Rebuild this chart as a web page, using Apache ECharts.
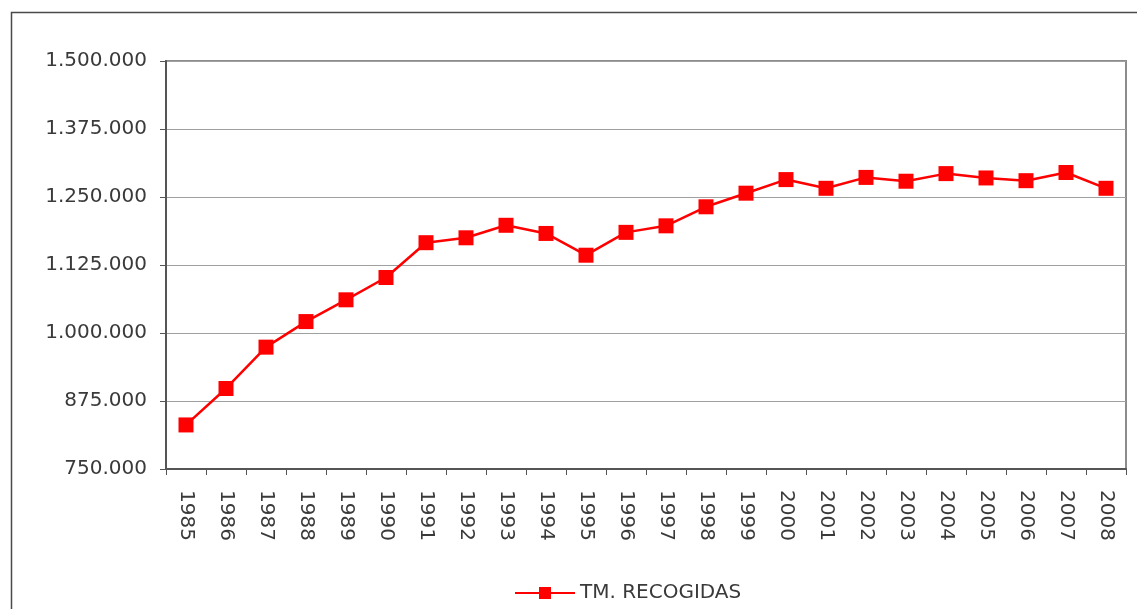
<!DOCTYPE html>
<html>
<head>
<meta charset="utf-8">
<script src="https://cdn.jsdelivr.net/npm/echarts@6/dist/echarts.min.js"></script>
<style>
  html, body { margin: 0; padding: 0; background: #fff; }
  #chart { width: 1137px; height: 609px; }
</style>
</head>
<body>
<div id="chart"></div>
<script>
// años
var years = ['1985', '1986', '1987', '1988', '1989', '1990', '1991', '1992', '1993', '1994', '1995', '1996',
  '1997', '1998', '1999', '2000', '2001', '2002', '2003', '2004', '2005', '2006', '2007', '2008'];
// toneladas recogidas
var tmRecogidas = [831000, 898000, 974000, 1021000, 1061000, 1102000, 1166000, 1175000, 1198000, 1183000, 1143000, 1185000,
  1197000, 1232000, 1257000, 1282000, 1266000, 1286000, 1279000, 1293000, 1285000, 1280000, 1295000, 1266000];
var seriesName = 'TM. RECOGIDAS';

function fmtMiles(v) {
  return String(v).replace(/\B(?=(\d{3})+(?!\d))/g, '.');
}

var chart = echarts.init(document.getElementById('chart'), null, { renderer: 'canvas' });
var font = 'DejaVu Sans';
var option = {
  animation: false,
  backgroundColor: '#fff',
  textStyle: { fontFamily: font },
  graphic: [{
    type: 'rect',
    left: 9, top: 10,
    shape: { width: 1200, height: 700 },
    style: { fill: 'none', stroke: '#4a4a4a', lineWidth: 1.5 },
    silent: true
  }],
  grid: {
    left: 166, top: 61, right: 11, bottom: 140,
    show: true,
    borderColor: '#8c8c8c',
    borderWidth: 2
  },
  legend: {
    left: 509, top: 578,
    itemWidth: 60, itemHeight: 15,
    data: [seriesName],
    textStyle: { fontFamily: font, fontSize: 20, color: '#3a3a3a' }
  },
  xAxis: {
    type: 'category',
    data: years,
    axisLine: { lineStyle: { color: '#555', width: 2 } },
    axisTick: { show: true, length: 6, lineStyle: { color: '#555', width: 1 } },
    axisLabel: { rotate: -90, margin: 21, fontFamily: font, fontSize: 20, color: '#3a3a3a', interval: 0 },
    splitLine: { show: false }
  },
  yAxis: {
    type: 'value',
    min: 750000, max: 1500000, interval: 125000,
    axisLine: { show: true, lineStyle: { color: '#555', width: 2 } },
    axisTick: { show: true, length: 6, lineStyle: { color: '#555', width: 1 } },
    axisLabel: { margin: 19, fontFamily: font, fontSize: 20, color: '#3a3a3a', formatter: fmtMiles },
    splitLine: { lineStyle: { color: '#a0a0a0', width: 1 } }
  },
  series: [{
    name: seriesName,
    type: 'line',
    data: tmRecogidas,
    symbol: 'rect',
    symbolSize: 15,
    itemStyle: { color: '#ff0000' },
    lineStyle: { color: '#ff0000', width: 2.5 }
  }]
};
chart.setOption(option);
</script>
</body>
</html>
